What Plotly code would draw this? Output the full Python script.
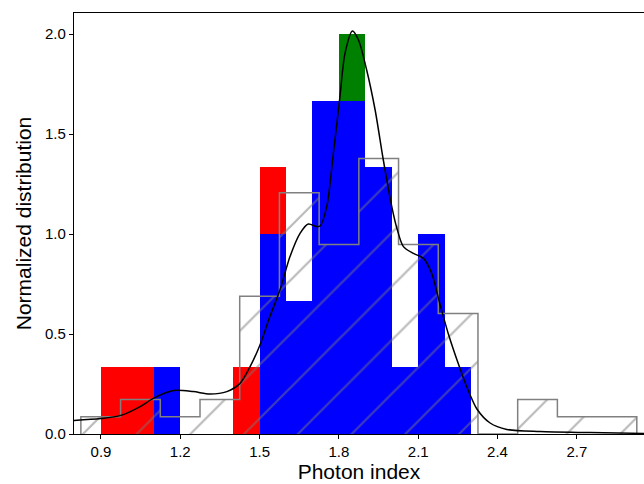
import plotly.graph_objects as go

# Colored histogram bins (left edges, width 0.1)
red_left = [0.9, 1.0, 1.4, 1.5]
red_h = [0.333, 0.333, 0.333, 1.333]
green_left = [1.8]
green_h = [2.0]
blue_left = [1.1, 1.5, 1.6, 1.7, 1.8, 1.9, 2.0, 2.1, 2.2]
blue_h = [0.333, 1.0, 0.667, 1.667, 1.667, 1.333, 0.333, 1.0, 0.333]
bin_w = 0.1

# Hatched step histogram
hatch_start = 0.824
hatch_w = 0.1502
hatch_h = [0.086, 0.172, 0.086, 0.172, 0.689, 1.206, 0.947, 1.378, 0.947, 0.603, 0.0, 0.172, 0.086, 0.086]

# KDE curve
kde_x = [0.798, 0.9, 0.976, 1.048, 1.098, 1.174, 1.249, 1.312, 1.376, 1.426, 1.464, 1.50, 1.539, 1.577,
         1.615, 1.653, 1.684, 1.716, 1.729, 1.754, 1.779, 1.804, 1.823, 1.851, 1.874, 1.905, 1.937, 1.968,
         2.0, 2.019, 2.044, 2.082, 2.12, 2.151, 2.183, 2.214, 2.252, 2.284, 2.322, 2.372, 2.435, 2.561, 2.75, 2.954]
kde_y = [0.068, 0.077, 0.093, 0.137, 0.178, 0.217, 0.212, 0.2, 0.212, 0.253, 0.337, 0.44, 0.587, 0.72,
         0.887, 1.003, 1.05, 1.037, 1.04, 1.137, 1.403, 1.687, 1.903, 2.015, 1.97, 1.82, 1.62, 1.37,
         1.137, 1.03, 0.937, 0.903, 0.878, 0.803, 0.645, 0.50, 0.35, 0.235, 0.125, 0.055, 0.023, 0.012, 0.007, 0.003]

x_ticks = [0.9, 1.2, 1.5, 1.8, 2.1, 2.4, 2.7]
y_ticks = [0.0, 0.5, 1.0, 1.5, 2.0]

fig = go.Figure()

def add_bars(lefts, heights, color):
    fig.add_trace(go.Bar(
        x=[l + bin_w / 2 for l in lefts], y=heights, width=[bin_w] * len(lefts),
        marker=dict(color=color, line=dict(width=0)), showlegend=False, hoverinfo="skip"))

add_bars(red_left, red_h, "#ff0000")
add_bars(green_left, green_h, "#008000")
add_bars(blue_left, blue_h, "#0000ff")

edges = [hatch_start + i * hatch_w for i in range(len(hatch_h) + 1)]
centers = [hatch_start + (i + 0.5) * hatch_w for i in range(len(hatch_h))]

fig.add_trace(go.Bar(
    x=centers, y=hatch_h, width=[hatch_w] * len(hatch_h),
    marker=dict(color="rgba(0,0,0,0)", line=dict(width=0),
                pattern=dict(shape="/", size=38, solidity=0.06,
                             fgcolor="#777777", bgcolor="rgba(0,0,0,0)")),
    showlegend=False, hoverinfo="skip"))

# step outline
sx = [edges[0]]
sy = [0]
for i, h in enumerate(hatch_h):
    sx += [edges[i], edges[i + 1]]
    sy += [h, h]
sx.append(edges[-1])
sy.append(0)
fig.add_trace(go.Scatter(x=sx, y=sy, mode="lines", line=dict(color="#808080", width=1.5),
                         showlegend=False, hoverinfo="skip"))

fig.add_trace(go.Scatter(x=kde_x, y=kde_y, mode="lines",
                         line=dict(color="black", width=1.5, shape="spline", smoothing=0.8),
                         showlegend=False, hoverinfo="skip"))

font_family = "Liberation Sans, Arial, sans-serif"
tick_font = dict(family=font_family, size=15, color="black")
fig.update_layout(
    width=644, height=484,
    margin=dict(l=74, r=0, t=13, b=50),
    barmode="overlay", bargap=0,
    plot_bgcolor="white", paper_bgcolor="white",
    font=dict(family=font_family, size=15, color="black"),
    xaxis=dict(range=[0.798, 2.954], tickvals=x_ticks, ticktext=[f"{v:.1f}" for v in x_ticks],
               tickfont=tick_font,
               ticks="outside", ticklen=4, tickwidth=1, tickcolor="black",
               showline=True, linecolor="black", linewidth=1.2, mirror=True,
               showgrid=False, zeroline=False,
               title=dict(text="Photon index", font=dict(family=font_family, size=21), standoff=5)),
    yaxis=dict(range=[0, 2.105], tickvals=y_ticks, ticktext=[f"{v:.1f}" for v in y_ticks],
               tickfont=tick_font,
               ticks="outside", ticklen=4, tickwidth=1, tickcolor="black",
               showline=True, linecolor="black", linewidth=1.2,
               showgrid=False, zeroline=False,
               title=dict(text="Normalized distribution", font=dict(family=font_family, size=21), standoff=7)),
)

fig.write_html("out.html")
